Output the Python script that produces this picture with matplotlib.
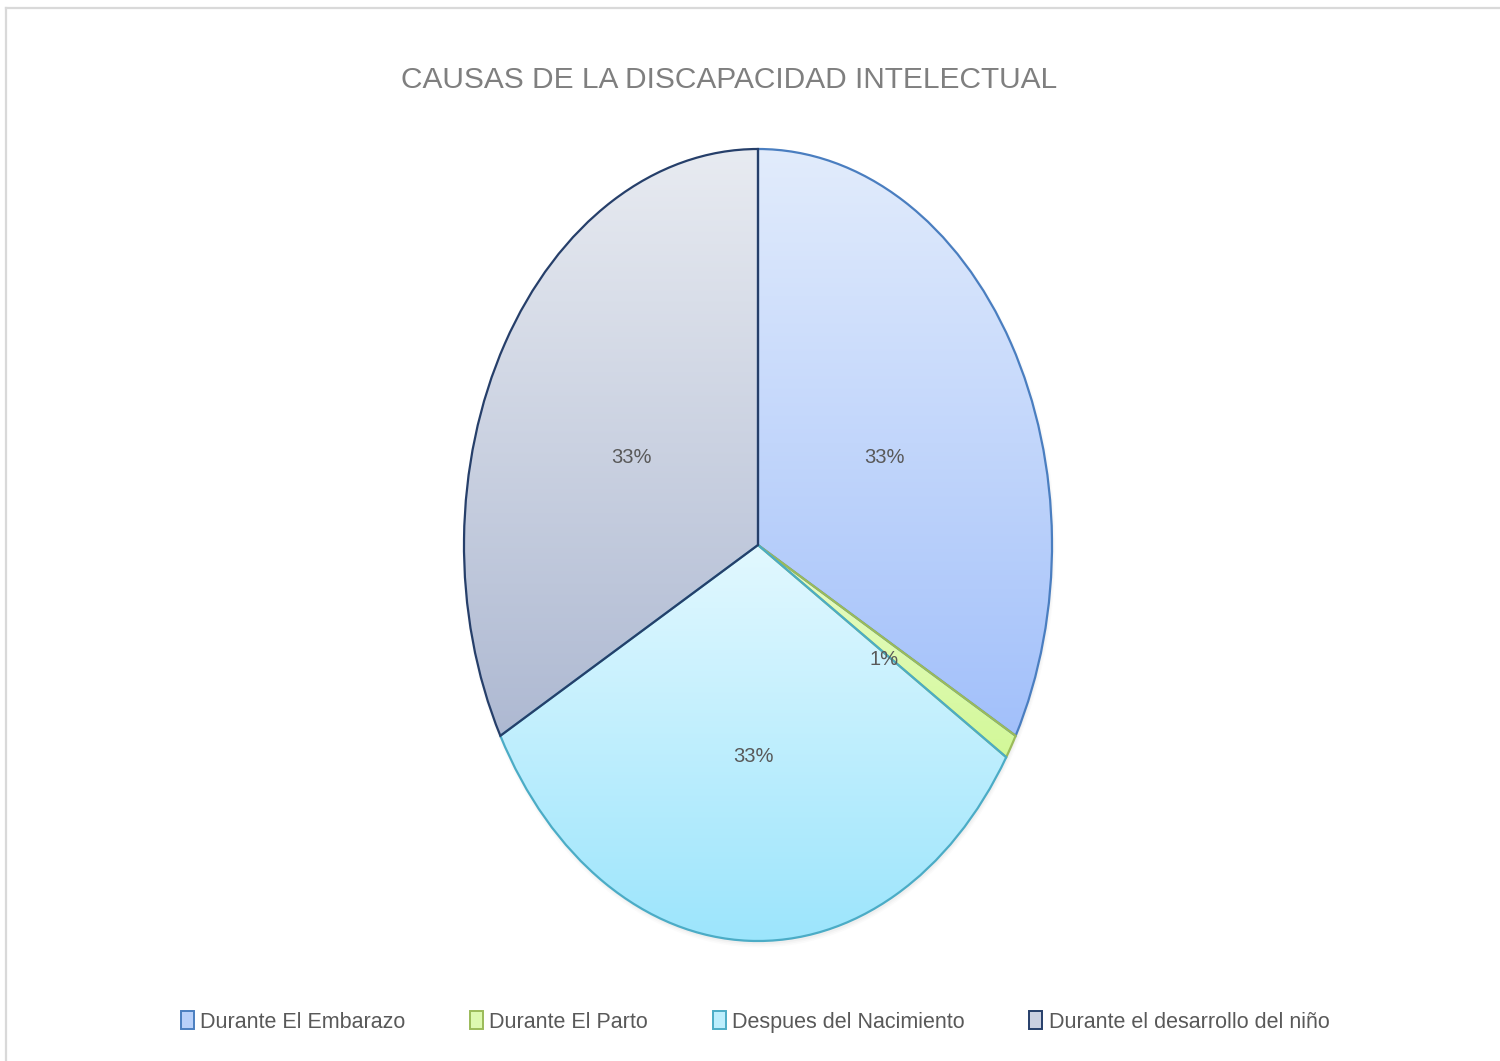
import numpy as np
import matplotlib.pyplot as plt
from matplotlib.patches import Patch
from matplotlib.colors import LinearSegmentedColormap

plt.rcParams['font.family'] = ['Liberation Sans', 'DejaVu Sans']

title = 'CAUSAS DE LA DISCAPACIDAD INTELECTUAL'
causas = ['Durante El Embarazo', 'Durante El Parto',
          'Despues del Nacimiento', 'Durante el desarrollo del niño']
porcentajes = [33, 1, 33, 33]

# gradient top/bottom colours and outline for each slice
tops = ['#E2ECFC', '#EAFCC8', '#E2F8FF', '#E8EBF1']
bottoms = ['#A2C0FA', '#D2F898', '#9CE5FC', '#AEB9D2']
edges = ['#4A7EC0', '#9BBB59', '#4BACC6', '#263F6A']
legend_fill = ['#B8D0FA', '#DDF9B0', '#BCEEFD', '#CBD1E1']

W, H = 1500, 1061
fig = plt.figure(figsize=(W / 100, H / 100), dpi=100)

# grey frame on the left and top
fig.add_artist(plt.Line2D([6 / W, 6 / W], [0, 1 - 8 / H], color='#D9D9D9', lw=1.6))
fig.add_artist(plt.Line2D([6 / W, 1], [1 - 8 / H, 1 - 8 / H], color='#D9D9D9', lw=1.6))

# pie stretched to an ellipse
cx, cy, rx, ry = 758, 545, 294, 396
pad = 1.02
ax = fig.add_axes([(cx - rx * pad) / W, (H - cy - ry * pad) / H,
                   2 * rx * pad / W, 2 * ry * pad / H])

# soft shadow under the pie
th = np.linspace(0, 2 * np.pi, 400)
for k, a in enumerate([0.05, 0.04, 0.03]):
    ax.fill(np.cos(th) * (1 + 0.004 * k) + 0.004, np.sin(th) * (1 + 0.004 * k) - 0.008,
            color='#808080', alpha=a, lw=0, zorder=0)

wedges, _ = ax.pie(porcentajes, startangle=90, counterclock=False,
                   colors=['none'] * 4, wedgeprops=dict(linewidth=1.6))
for w, c in zip(wedges, edges):
    w.set_edgecolor(c)
    w.set_zorder(3)

# vertical gradient fill clipped to each wedge
grad = np.linspace(0, 1, 256).reshape(-1, 1)
for w, t, b in zip(wedges, tops, bottoms):
    ys = w.get_path().vertices[:, 1]
    cmap = LinearSegmentedColormap.from_list('g', [b, t])
    im = ax.imshow(grad, extent=(-1, 1, ys.min(), ys.max()), origin='lower',
                   cmap=cmap, aspect='auto', zorder=2, interpolation='bilinear')
    im.set_clip_path(w)

ax.set_xlim(-pad, pad)
ax.set_ylim(-pad, pad)
ax.set_aspect('auto')
ax.axis('off')

# percentage labels
for w, p in zip(wedges, porcentajes):
    ang = np.deg2rad((w.theta1 + w.theta2) / 2)
    ax.text(0.5 * np.cos(ang), 0.5 * np.sin(ang) - 0.034, f'{p}%', ha='center',
            va='center', fontsize=14.5, color='#595959', zorder=5)

fig.text(729 / W, 1 - 80 / H, title, ha='center', va='center',
         fontsize=21.5, color='#7F7F7F')

handles = [Patch(facecolor=c, edgecolor=e, lw=1.4) for c, e in zip(legend_fill, edges)]
fig.legend(handles, causas, loc='center', bbox_to_anchor=(755 / W, 1 - 1022 / H),
           ncol=4, frameon=False, fontsize=15.5, handlelength=0.6, handleheight=0.9,
           handletextpad=0.3, columnspacing=3.0, labelcolor='#595959')

fig.savefig('out.png', dpi=100, facecolor='white')
